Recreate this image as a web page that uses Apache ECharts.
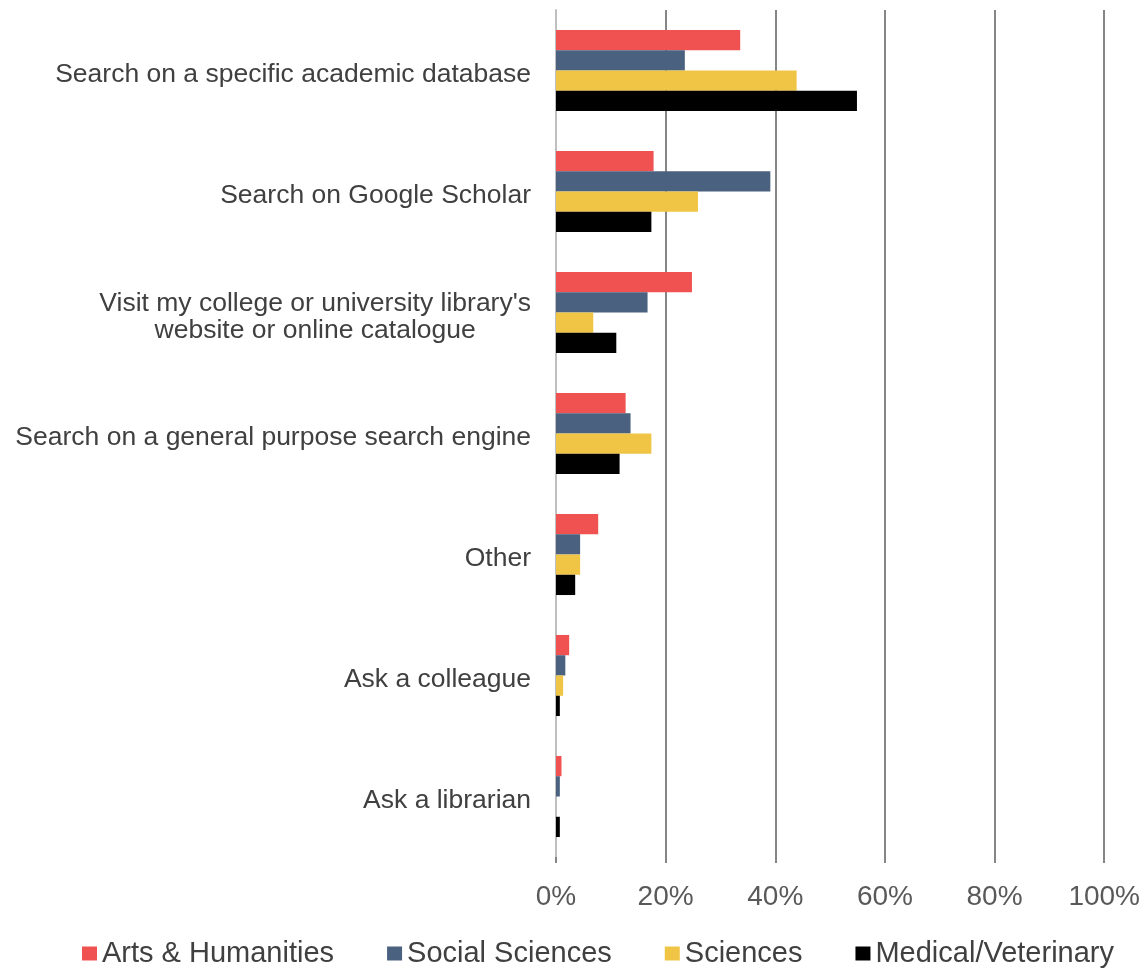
<!DOCTYPE html>
<html>
<head>
<meta charset="utf-8">
<script src="https://cdn.jsdelivr.net/npm/echarts@6/dist/echarts.min.js"></script>
<style>
html,body{margin:0;padding:0;background:#fff;}
#chart{width:1143px;height:968px;}
</style>
</head>
<body>
<div id="chart"></div>
<script>
const categories = [
  "Search on a specific academic database",
  "Search on Google Scholar",
  "Visit my college or university library's\nwebsite or online catalogue",
  "Search on a general purpose search engine",
  "Other",
  "Ask a colleague",
  "Ask a librarian"
];
const seriesNames = ["Arts & Humanities", "Social Sciences", "Sciences", "Medical/Veterinary"];
const artsHumanities   = [33.6, 17.8, 24.8, 12.7, 7.7, 2.4, 1.0];
const socialSciences   = [23.5, 39.1, 16.7, 13.6, 4.4, 1.7, 0.7];
const sciences         = [43.9, 25.9, 6.8, 17.4, 4.4, 1.3, 0];
const medicalVet       = [54.9, 17.4, 11.0, 11.6, 3.5, 0.7, 0.7];
const xTicks = [0, 20, 40, 60, 80, 100];
const colors = ["#F05252", "#4A617F", "#F0C545", "#000000"];

const dataSets = [artsHumanities, socialSciences, sciences, medicalVet];
const chart = echarts.init(document.getElementById('chart'));
const font = "'Liberation Sans', Arial, sans-serif";
chart.setOption({
  animation: false,
  textStyle: { fontFamily: font },
  grid: { left: 556, right: 38, top: 10, bottom: 111, containLabel: false },
  xAxis: {
    type: 'value',
    min: xTicks[0],
    max: xTicks[xTicks.length - 1],
    interval: 20,
    axisLine: { show: false },
    axisTick: { show: true, length: 6, lineStyle: { color: '#868686', width: 2 } },
    splitLine: { show: true, lineStyle: { color: '#868686', width: 2 } },
    axisLabel: {
      formatter: v => v + '%',
      color: '#595959',
      fontSize: 28,
      fontFamily: font,
      margin: 26
    }
  },
  yAxis: {
    type: 'category',
    inverse: true,
    data: categories,
    axisLine: { show: true, lineStyle: { color: '#BFBFBF', width: 2 } },
    axisTick: { show: false },
    axisLabel: {
      color: '#404040',
      fontSize: 26.5,
      fontFamily: font,
      margin: 25,
      lineHeight: 27,
      padding: [9, 0, 0, 0],
      formatter: v => v.split('\n').map(s => '{c|' + s + '}').join('\n'),
      rich: { c: { align: 'center', fontSize: 26.5, color: '#404040', lineHeight: 27, fontFamily: font } }
    }
  },
  legend: {
    top: 934,
    left: 77,
    itemWidth: 15,
    itemHeight: 14,
    itemGap: 53,
    icon: 'rect',
    textStyle: { color: '#404040', fontSize: 29, fontFamily: font, padding: [0, 0, 0, 0] },
    data: seriesNames
  },
  series: seriesNames.map((name, i) => ({
    name: name,
    type: 'bar',
    data: dataSets[i],
    barGap: '0%',
    barCategoryGap: '33%',
    itemStyle: { color: colors[i] }
  }))
});
</script>
</body>
</html>
